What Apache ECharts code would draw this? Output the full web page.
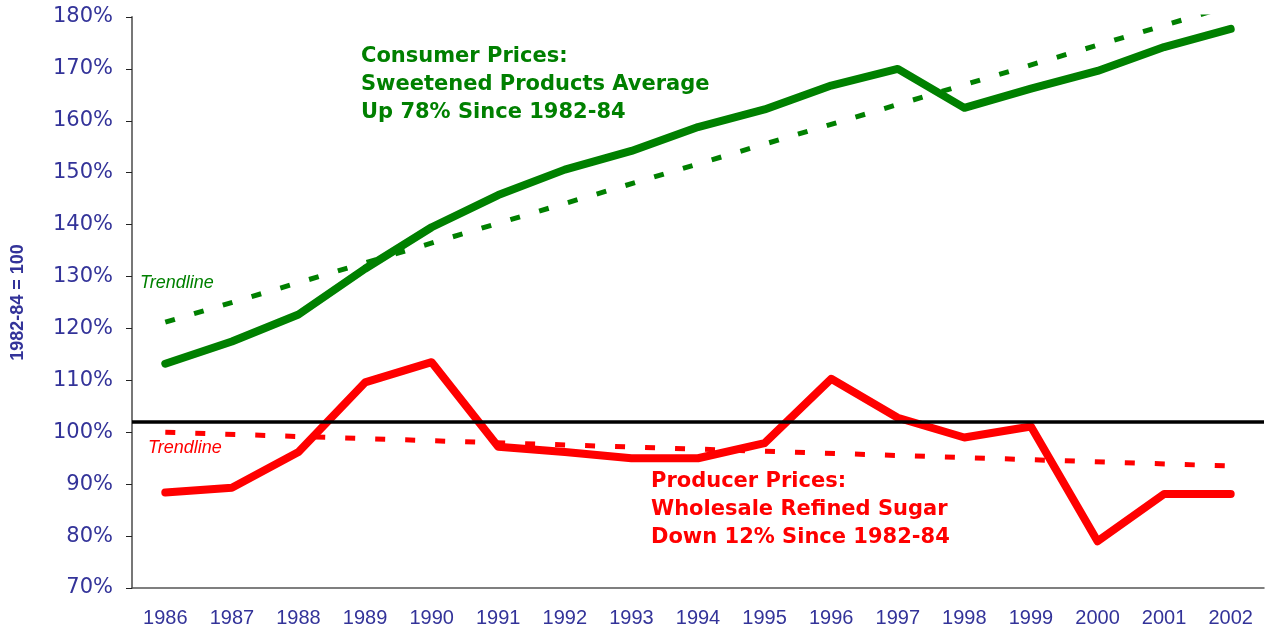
<!DOCTYPE html>
<html>
<head>
<meta charset="utf-8">
<script src="https://cdn.jsdelivr.net/npm/echarts@6/dist/echarts.min.js"></script>
<style>
  html, body { margin: 0; padding: 0; background: #fff; }
  #chart { width: 1272px; height: 631px; }
</style>
</head>
<body>
<div id="chart"></div>
<script>
// years on the x axis
var years = ['1986', '1987', '1988', '1989', '1990', '1991', '1992', '1993', '1994',
             '1995', '1996', '1997', '1998', '1999', '2000', '2001', '2002'];

// consumer prices, sweetened products average (1982-84 = 100)
var consumer = [113.2, 117.5, 122.7, 131.5, 139.5, 145.7, 150.6, 154.2, 158.8,
                162.2, 166.8, 170.0, 162.5, 166.2, 169.6, 174.2, 177.7];

// producer prices, wholesale refined sugar
var producer = [88.4, 89.3, 96.2, 109.6, 113.5, 97.2, 96.2, 95.0, 95.0,
                97.9, 110.3, 102.8, 99.0, 101.1, 79.0, 88.1, 88.1];

// trendlines, only the end points are read, the line joins them
var consumerTrend = [121.2, null, null, null, null, null, null, null, null,
                     null, null, null, null, null, null, null, 182.2];
var producerTrend = [100.0, null, null, null, null, null, null, null, null,
                     null, null, null, null, null, null, null, 93.5];

var refLevel = 102;

var blue = '#333399';
var green = '#008000';
var red = '#ff0000';

var chart = echarts.init(document.getElementById('chart'));

chart.setOption({
  animation: false,
  grid: { left: 132, right: 8, top: 17, bottom: 43 },
  xAxis: {
    type: 'category',
    data: years,
    boundaryGap: true,
    axisLine: { lineStyle: { color: '#555', width: 1.5 } },
    axisTick: { interval: 0, length: 6, lineStyle: { color: '#222' } },
    axisLabel: {
      interval: 0,
      color: blue,
      fontFamily: 'Liberation Sans',
      fontSize: 20,
      margin: 20
    }
  },
  yAxis: {
    type: 'value',
    min: 70,
    max: 180,
    interval: 10,
    name: '1982-84 = 100',
    nameLocation: 'middle',
    nameRotate: 90,
    nameGap: 105,
    nameTextStyle: {
      color: blue,
      fontFamily: 'Liberation Sans',
      fontWeight: 'bold',
      fontSize: 18
    },
    axisLine: { show: true, lineStyle: { color: '#777', width: 2 } },
    axisTick: { show: true, length: 6, lineStyle: { color: '#222' } },
    splitLine: { show: false },
    axisLabel: {
      formatter: '{value}%',
      color: blue,
      fontFamily: 'DejaVu Sans',
      fontSize: 21,
      margin: 19
    }
  },
  series: [
    {
      name: 'Producer trend',
      type: 'line',
      data: producerTrend,
      connectNulls: true,
      symbol: 'none',
      lineStyle: { color: red, width: 5, type: [10, 20] },
      markLine: {
        silent: true,
        symbol: 'none',
        label: { show: false },
        lineStyle: { color: '#000', width: 3.5, type: 'solid' },
        data: [{ yAxis: refLevel }]
      }
    },
    {
      name: 'Consumer trend',
      type: 'line',
      data: consumerTrend,
      connectNulls: true,
      symbol: 'none',
      lineStyle: { color: green, width: 5, type: [10, 20] }
    },
    {
      name: 'Consumer Prices',
      type: 'line',
      data: consumer,
      symbol: 'none',
      lineStyle: { color: green, width: 8, cap: 'round', join: 'round' }
    },
    {
      name: 'Producer Prices',
      type: 'line',
      data: producer,
      symbol: 'none',
      lineStyle: { color: red, width: 8, cap: 'round', join: 'round' }
    }
  ],
  graphic: [
    {
      type: 'text',
      left: 361,
      top: 43,
      style: {
        text: 'Consumer Prices:\nSweetened Products Average\nUp 78% Since 1982-84',
        fill: green,
        font: 'bold 21px "DejaVu Sans"',
        lineHeight: 28
      }
    },
    {
      type: 'text',
      left: 651,
      top: 468,
      style: {
        text: 'Producer Prices:\nWholesale Refined Sugar\nDown 12% Since 1982-84',
        fill: red,
        font: 'bold 21px "DejaVu Sans"',
        lineHeight: 28
      }
    },
    {
      type: 'text',
      left: 140,
      top: 274,
      style: { text: 'Trendline', fill: green, font: 'italic 18px "Liberation Sans"' }
    },
    {
      type: 'text',
      left: 148,
      top: 439,
      style: { text: 'Trendline', fill: red, font: 'italic 18px "Liberation Sans"' }
    }
  ]
});
</script>
</body>
</html>
